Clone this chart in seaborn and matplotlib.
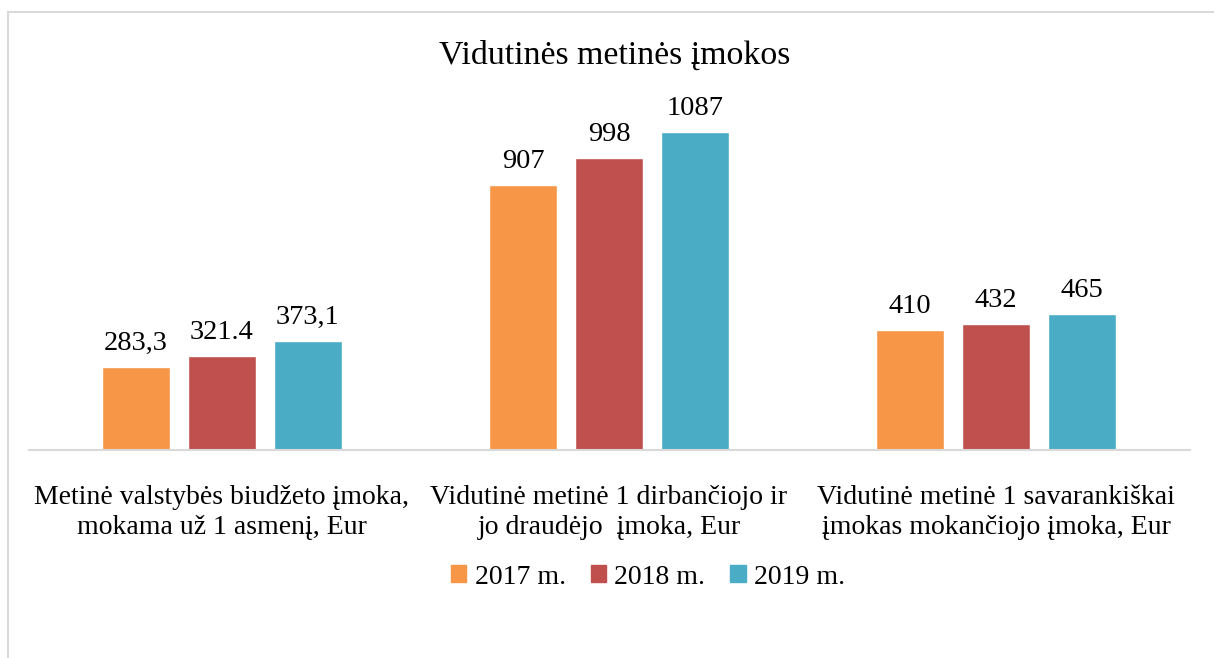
import matplotlib
matplotlib.use("Agg")
import matplotlib.pyplot as plt
import seaborn as sns
import pandas as pd
from matplotlib.patches import Rectangle

categories = [
    "Metinė valstybės biudžeto įmoka,\nmokama už 1 asmenį, Eur",
    "Vidutinė metinė 1 dirbančiojo ir\njo draudėjo  įmoka, Eur",
    "Vidutinė metinė 1 savarankiškai\nįmokas mokančiojo įmoka, Eur",
]
series_names = ["2017 m.", "2018 m.", "2019 m."]
values_2017 = [283.3, 907, 410]
values_2018 = [321.4, 998, 432]
values_2019 = [373.1, 1087, 465]
labels_2017 = ["283,3", "907", "410"]
labels_2018 = ["321.4", "998", "432"]
labels_2019 = ["373,1", "1087", "465"]
colors = ["#F79646", "#C0504D", "#4BACC6"]

rows = []
for name, vals in zip(series_names, [values_2017, values_2018, values_2019]):
    for c, v in zip(categories, vals):
        rows.append({"cat": c, "year": name, "val": v})
df = pd.DataFrame(rows)

sns.set_theme(style="white")
plt.rcParams["font.family"] = ["Liberation Serif", "DejaVu Serif"]
plt.rcParams["text.color"] = "#000000"

fig = plt.figure(figsize=(12.14, 6.58), dpi=100)
ax = fig.add_axes([28.5 / 1214, 1 - 450 / 658, 1161 / 1214, 351 / 658])

sns.barplot(data=df, x="cat", y="val", hue="year", palette=colors,
            width=0.666, gap=0.207, ax=ax, legend=True, saturation=1)

for cont, labs in zip(ax.containers, [labels_2017, labels_2018, labels_2019]):
    ax.bar_label(cont, labels=labs, padding=8, fontsize=20.5, color="#000000")

ax.set_ylim(0, 1200)
ax.set_xlim(-0.5, 2.5)
ax.set_xlabel("")
ax.set_ylabel("")
ax.set_yticks([])
for s in ["top", "left", "right"]:
    ax.spines[s].set_visible(False)
ax.spines["bottom"].set_color("#d9d9d9")
ax.spines["bottom"].set_linewidth(1.5)
ax.tick_params(axis="x", length=0, labelsize=20, pad=25, colors="#000000")
for t in ax.get_xticklabels():
    t.set_linespacing(1.3)

ax.get_legend().remove()
handles = [Rectangle((0, 0), 1, 1, color=c) for c in colors]
leg = fig.legend(handles, series_names, loc="center", bbox_to_anchor=(648 / 1214, 1 - 577 / 658),
                 ncol=3, frameon=False, fontsize=20, handlelength=0.55, handleheight=0.55,
                 handletextpad=0.3, columnspacing=0.9)
for t in leg.get_texts():
    t.set_color("#000000")

fig.text(615 / 1214, 1 - 56 / 658, "Vidutinės metinės įmokos", ha="center", va="center",
         fontsize=24.4, color="#000000")

border = Rectangle((8 / 1214, -0.1), 1.2, (1 - 12 / 658) + 0.1, transform=fig.transFigure,
                   fill=False, edgecolor="#d9d9d9", linewidth=1.5, clip_on=False)
fig.patches.append(border)

fig.savefig("out.png", dpi=100)
